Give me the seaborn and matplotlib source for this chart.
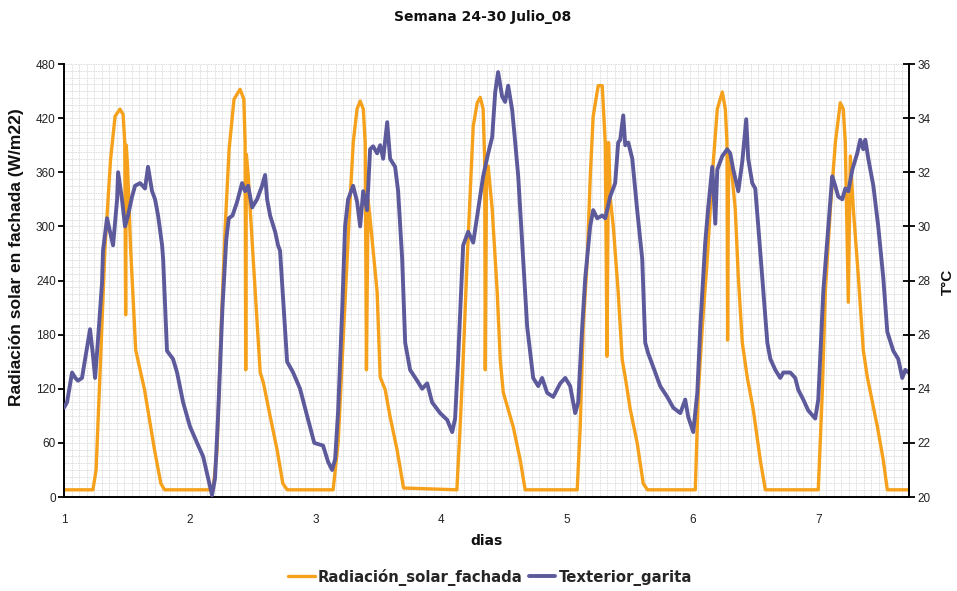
import numpy as np
import matplotlib
matplotlib.use("Agg")
import matplotlib.pyplot as plt
import seaborn as sns
from matplotlib.ticker import FixedLocator, MultipleLocator, NullFormatter

# Radiación solar en fachada (W/m2), one row per day
rad_dias = [1.00, 1.23, 1.255, 1.29, 1.325, 1.35, 1.37, 1.406, 1.445, 1.47, 1.483, 1.49, 1.495, 1.505, 1.53, 1.57, 1.64, 1.72, 1.77, 1.80,
            2.185, 2.217, 2.249, 2.281, 2.313, 2.352, 2.40, 2.43, 2.44, 2.445, 2.45, 2.465, 2.50, 2.56, 2.585, 2.64, 2.695, 2.74, 2.775,
            3.14, 3.18, 3.212, 3.251, 3.275, 3.30, 3.33, 3.355, 3.38, 3.395, 3.405, 3.418, 3.44, 3.49, 3.514, 3.554, 3.593, 3.649, 3.70,
            4.124, 4.15, 4.174, 4.206, 4.23, 4.254, 4.286, 4.31, 4.333, 4.345, 4.35, 4.36, 4.373, 4.405, 4.445, 4.469, 4.493, 4.572, 4.628, 4.667,
            5.081, 5.105, 5.129, 5.161, 5.185, 5.208, 5.248, 5.28, 5.304, 5.318, 5.33, 5.345, 5.368, 5.407, 5.439, 5.463, 5.503, 5.558, 5.606, 5.64,
            6.02, 6.044, 6.076, 6.115, 6.155, 6.195, 6.235, 6.259, 6.272, 6.277, 6.285, 6.30, 6.338, 6.362, 6.394, 6.433, 6.481, 6.537, 6.577,
            6.998, 7.03, 7.054, 7.094, 7.134, 7.173, 7.197, 7.213, 7.237, 7.253, 7.277, 7.317, 7.356, 7.388, 7.468, 7.515, 7.547, 7.714]
rad_vals = [8, 8, 30, 150, 274, 330, 374, 422, 430, 424, 393, 202, 390, 367, 274, 163, 119, 52, 15, 8,
            8, 52, 186, 297, 386, 441, 452, 441, 393, 141, 380, 356, 274, 138, 127, 89, 52, 15, 8,
            8, 60, 152, 263, 330, 393, 430, 439, 430, 393, 141, 330, 300, 227, 133, 119, 89, 52, 10,
            8, 78, 152, 263, 337, 411, 437, 443, 430, 374, 141, 360, 367, 319, 227, 152, 116, 78, 41, 8,
            8, 78, 189, 263, 356, 422, 456, 456, 393, 156, 393, 330, 300, 227, 152, 133, 97, 60, 15, 8,
            8, 116, 189, 263, 356, 430, 449, 430, 393, 174, 380, 374, 319, 244, 171, 133, 97, 41, 8,
            8, 116, 227, 319, 393, 437, 430, 393, 216, 378, 319, 244, 163, 133, 78, 41, 8, 8]

# Texterior garita (°C)
temp_dias = [1.0, 1.024, 1.064, 1.09, 1.111, 1.143, 1.207, 1.231, 1.247, 1.27, 1.302, 1.31, 1.342, 1.366, 1.39, 1.422, 1.43, 1.461,
             1.485, 1.509, 1.541, 1.565, 1.605, 1.644, 1.668, 1.70, 1.724, 1.748, 1.78, 1.788, 1.819, 1.867, 1.899, 1.947,
             2.002, 2.058, 2.106, 2.146, 2.177, 2.201, 2.225, 2.26, 2.29, 2.31, 2.34, 2.376, 2.416, 2.44, 2.464, 2.496, 2.535,
             2.575, 2.599, 2.615, 2.639, 2.679, 2.702, 2.718, 2.774, 2.822, 2.877, 2.933, 2.99,
             3.06, 3.10, 3.132, 3.156, 3.18, 3.212, 3.235, 3.259, 3.299, 3.331, 3.355, 3.379, 3.41, 3.434, 3.458, 3.49, 3.514,
             3.538, 3.57, 3.593, 3.633, 3.657, 3.689, 3.713, 3.752, 3.808, 3.848, 3.888, 3.927, 3.991,
             4.047, 4.087, 4.11, 4.134, 4.174, 4.214, 4.254, 4.293, 4.333, 4.373, 4.405, 4.429, 4.452, 4.484, 4.508, 4.532,
             4.564, 4.588, 4.612, 4.643, 4.683, 4.731, 4.771, 4.802, 4.842, 4.89, 4.946, 4.986,
             5.025, 5.065, 5.089, 5.121, 5.145, 5.184, 5.208, 5.24, 5.28, 5.304, 5.343, 5.383, 5.407, 5.423, 5.447, 5.463,
             5.487, 5.519, 5.558, 5.598, 5.622, 5.646, 5.686, 5.741, 5.797, 5.845, 5.901, 5.94, 5.964,
             6.004, 6.036, 6.06, 6.099, 6.123, 6.155, 6.179, 6.195, 6.235, 6.274, 6.298, 6.322, 6.362, 6.394, 6.425, 6.441,
             6.473, 6.497, 6.521, 6.561, 6.593, 6.617, 6.656, 6.696, 6.72, 6.776, 6.815, 6.839, 6.879, 6.918, 6.974, 6.998,
             7.038, 7.078, 7.109, 7.133, 7.157, 7.189, 7.213, 7.237, 7.269, 7.308, 7.332, 7.356, 7.372, 7.396, 7.436, 7.475,
             7.515, 7.547, 7.595, 7.634, 7.666, 7.69, 7.714]
temp_vals = [23.3, 23.5, 24.6, 24.4, 24.3, 24.4, 26.2, 25.2, 24.4, 25.8, 27.9, 29.1, 30.3, 29.8, 29.3, 31.0, 32.0, 31.0,
             30.0, 30.4, 31.1, 31.5, 31.6, 31.4, 32.2, 31.3, 31.0, 30.4, 29.3, 28.8, 25.4, 25.1, 24.6, 23.5,
             22.6, 22.0, 21.5, 20.7, 20.07, 20.7, 23.0, 27.0, 29.5, 30.3, 30.4, 30.9, 31.6, 31.3, 31.5, 30.7, 31.0,
             31.5, 31.9, 31.0, 30.4, 29.8, 29.3, 29.1, 25.0, 24.6, 24.0, 23.0, 22.0,
             21.9, 21.3, 21.0, 21.4, 23.2, 26.9, 30.0, 31.0, 31.5, 30.9, 30.0, 31.3, 30.6, 32.85, 32.96, 32.7, 33.0,
             32.5, 33.85, 32.5, 32.2, 31.3, 28.8, 25.7, 24.7, 24.3, 24.0, 24.2, 23.5, 23.1,
             22.85, 22.4, 22.9, 25.1, 29.3, 29.8, 29.4, 30.6, 31.85, 32.7, 33.3, 34.96, 35.7, 34.8, 34.6, 35.2,
             34.3, 33.1, 31.85, 29.4, 26.3, 24.4, 24.1, 24.4, 23.85, 23.7, 24.2, 24.4,
             24.1, 23.1, 23.5, 26.3, 28.1, 30.0, 30.6, 30.3, 30.4, 30.3, 31.1, 31.6, 33.1, 33.2, 34.1, 33.0,
             33.1, 32.5, 30.6, 28.8, 25.7, 25.3, 24.8, 24.1, 23.7, 23.3, 23.1, 23.6, 22.96,
             22.4, 23.85, 26.3, 29.4, 30.7, 32.2, 30.1, 32.1, 32.6, 32.85, 32.7, 32.1, 31.3, 32.4, 33.96, 32.5,
             31.6, 31.4, 30.0, 27.6, 25.7, 25.1, 24.7, 24.4, 24.6, 24.6, 24.4, 23.96, 23.6, 23.2, 22.9, 23.6,
             27.6, 30.0, 31.85, 31.5, 31.1, 31.0, 31.4, 31.3, 32.1, 32.7, 33.2, 32.85, 33.2, 32.5, 31.5, 30.0,
             28.1, 26.1, 25.4, 25.1, 24.4, 24.7, 24.6]

rad_ticks = list(range(0, 481, 60))
temp_ticks = list(range(20, 37, 2))
dia_labels = list(range(1, 8))

naranja = "#F5A11C"
morado = "#5D5A9C"

sns.set_style("white")
plt.rcParams["font.family"] = ["Liberation Sans", "DejaVu Sans"]

fig = plt.figure(figsize=(9.57, 5.91), dpi=100)
ax = fig.add_axes([0.0669, 0.159, 0.8830, 0.7327])

sns.lineplot(x=rad_dias, y=rad_vals, ax=ax, color=naranja, linewidth=2.4,
             sort=False, estimator=None, legend=False)
ax2 = ax.twinx()
sns.lineplot(x=temp_dias, y=temp_vals, ax=ax2, color=morado, linewidth=2.8,
             sort=False, estimator=None, legend=False)

ax.set_xlim(1, 7.72)
ax.set_ylim(0, 480)
ax2.set_ylim(20, 36)
ax.set_yticks(rad_ticks)
ax2.set_yticks(temp_ticks)

# tick marks every 0.3 dias, labels on the integers
ax.xaxis.set_major_locator(FixedLocator(np.arange(1, 7.73, 0.3)))
ax.xaxis.set_major_formatter(NullFormatter())
ax.xaxis.set_minor_locator(FixedLocator(np.arange(1, 7.73, 0.06)))
ax.yaxis.set_minor_locator(MultipleLocator(7.5))
ax.grid(which="both", color="#d0d0d0", linestyle=(0, (1, 1)), linewidth=0.6)
ax.set_axisbelow(True)

sec = ax.secondary_xaxis("bottom")
sec.set_xticks(dia_labels)
sec.tick_params(length=0, pad=12, labelsize=8.5, colors="#222222")
sec.spines["bottom"].set_visible(False)

ax.tick_params(axis="x", which="major", direction="out", length=5, width=1.3, color="black")
ax.tick_params(which="minor", length=0)
ax.tick_params(axis="y", direction="out", length=4, width=1.3, labelsize=8.5, pad=2,
               colors="black", labelcolor="#222222")
ax2.tick_params(axis="y", direction="inout", length=8, width=1.3, labelsize=8.5, pad=2,
                colors="black", labelcolor="#222222")

for a in (ax, ax2):
    a.spines["top"].set_visible(False)
    for s in ("left", "bottom", "right"):
        a.spines[s].set_color("black")
        a.spines[s].set_linewidth(1.4)
ax.spines["right"].set_visible(False)
ax2.spines["left"].set_visible(False)
ax2.spines["bottom"].set_visible(False)

ax.set_xlabel("")
ax.set_ylabel("")
ax2.set_ylabel("")
fig.text(17 / 957, 1 - 257 / 591, "Radiación solar en fachada (W/m22)", rotation=90,
         ha="center", va="center", fontsize=12.5, fontweight="bold", color="#111111")
fig.text(948 / 957, 1 - 282 / 591, "T°C", rotation=90, ha="center", va="center",
         fontsize=11, fontweight="bold", color="#111111")

fig.text(483 / 957, 1 - 17 / 591, "Semana 24-30 Julio_08", ha="center", va="center",
         fontsize=10, fontweight="bold", family="DejaVu Sans", color="#111111")
fig.text(487 / 957, 1 - 541 / 591, "dias", ha="center", va="center",
         fontsize=10, fontweight="bold", family="DejaVu Sans", color="#111111")

l1 = ax.get_lines()[0]
l2 = ax2.get_lines()[0]
fig.legend([l1, l2], ["Radiación_solar_fachada", "Texterior_garita"], loc="center",
           bbox_to_anchor=(490 / 957, 1 - 577 / 591), ncol=2, frameon=False, handlelength=1.8,
           handletextpad=0.2, columnspacing=0.4,
           prop={"family": "DejaVu Sans", "weight": "bold", "size": 10.7})

fig.savefig("out.png", dpi=100)
